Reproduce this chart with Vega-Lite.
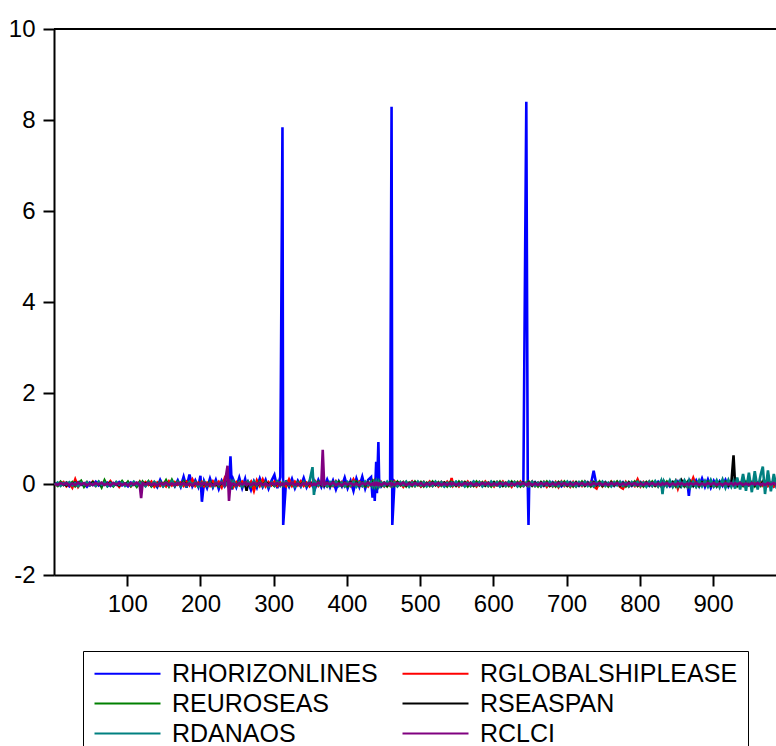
{"$schema":"https://vega.github.io/schema/vega-lite/v6.json","width":722,"height":546,"autosize":{"type":"none"},"padding":{"left":54,"top":29,"right":0,"bottom":171},"background":"white","config":{"view":{"stroke":null},"font":"Liberation Sans"},
"data":{"values":[
{"t":1,"h":0.02,"g":-0.03,"e":0.01,"s":0,"d":-0.02,"c":0.01},
{"t":5,"h":-0.03,"g":0.02,"e":-0.04,"s":0.02,"d":0.03,"c":-0.02},
{"t":9,"h":0.01,"g":-0.01,"e":0.05,"s":-0.02,"d":-0.04,"c":0.02},
{"t":13,"h":-0.02,"g":0.04,"e":-0.02,"s":0.01,"d":0.02,"c":-0.01},
{"t":17,"h":0.03,"g":-0.05,"e":0.03,"s":-0.03,"d":-0.01,"c":0.02},
{"t":21,"h":-0.05,"g":0.02,"e":-0.01,"s":0.02,"d":0.04,"c":-0.03},
{"t":25,"h":0.02,"g":-0.08,"e":0.04,"s":-0.01,"d":-0.03,"c":0.01},
{"t":29,"h":-0.01,"g":0.10,"e":-0.05,"s":0.03,"d":0.02,"c":-0.02},
{"t":33,"h":0.04,"g":-0.06,"e":0.02,"s":-0.02,"d":-0.05,"c":0.03},
{"t":37,"h":-0.02,"g":0.03,"e":0.07,"s":0.01,"d":0.03,"c":-0.01},
{"t":41,"h":0.01,"g":-0.02,"e":-0.06,"s":-0.02,"d":-0.02,"c":0.02},
{"t":45,"h":-0.06,"g":0.04,"e":0.03,"s":0.02,"d":0.04,"c":-0.03},
{"t":49,"h":0.03,"g":-0.03,"e":-0.02,"s":-0.01,"d":-0.03,"c":0.01},
{"t":53,"h":-0.02,"g":0.05,"e":0.04,"s":0.03,"d":0.01,"c":-0.02},
{"t":57,"h":0.05,"g":-0.04,"e":-0.03,"s":-0.02,"d":-0.04,"c":0.02},
{"t":61,"h":-0.03,"g":0.02,"e":0.05,"s":0.01,"d":0.05,"c":-0.01},
{"t":65,"h":0.02,"g":-0.05,"e":-0.07,"s":-0.03,"d":-0.02,"c":0.03},
{"t":69,"h":-0.01,"g":0.03,"e":0.08,"s":0.02,"d":0.03,"c":-0.02},
{"t":73,"h":0.03,"g":-0.02,"e":-0.04,"s":-0.01,"d":-0.05,"c":0.01},
{"t":77,"h":-0.04,"g":0.06,"e":0.02,"s":0.03,"d":0.02,"c":-0.03},
{"t":81,"h":0.02,"g":-0.03,"e":-0.05,"s":-0.02,"d":-0.03,"c":0.02},
{"t":85,"h":-0.02,"g":0.02,"e":0.04,"s":0.01,"d":0.04,"c":-0.01},
{"t":89,"h":0.04,"g":-0.06,"e":-0.02,"s":-0.03,"d":-0.02,"c":0.02},
{"t":93,"h":-0.03,"g":0.04,"e":0.06,"s":0.02,"d":0.03,"c":-0.02},
{"t":97,"h":0.01,"g":-0.02,"e":-0.03,"s":-0.01,"d":-0.04,"c":0.01},
{"t":101,"h":-0.05,"g":0.03,"e":0.05,"s":0.02,"d":0.02,"c":-0.03},
{"t":105,"h":0.03,"g":-0.05,"e":-0.04,"s":-0.02,"d":-0.03,"c":0.02},
{"t":109,"h":-0.02,"g":0.02,"e":0.03,"s":0.03,"d":0.05,"c":-0.01},
{"t":113,"h":0.02,"g":-0.04,"e":-0.06,"s":-0.01,"d":-0.02,"c":0.03},
{"t":117,"h":-0.04,"g":0.05,"e":0.04,"s":0.02,"d":0.03,"c":-0.02},
{"t":119,"h":0.01,"g":-0.02,"e":-0.02,"s":-0.01,"d":-0.03,"c":-0.31},
{"t":121,"h":0.03,"g":-0.03,"e":0.05,"s":-0.02,"d":0.02,"c":0.02},
{"t":125,"h":-0.02,"g":0.04,"e":-0.03,"s":0.01,"d":-0.05,"c":-0.01},
{"t":129,"h":0.04,"g":-0.02,"e":0.06,"s":0.02,"d":0.04,"c":0.02},
{"t":133,"h":-0.03,"g":0.05,"e":-0.05,"s":-0.03,"d":-0.03,"c":-0.02},
{"t":137,"h":0.02,"g":-0.06,"e":0.03,"s":0.02,"d":0.05,"c":0.01},
{"t":141,"h":-0.07,"g":0.03,"e":-0.04,"s":-0.01,"d":-0.02,"c":-0.03},
{"t":145,"h":0.09,"g":-0.04,"e":0.05,"s":0.03,"d":0.04,"c":0.02},
{"t":149,"h":-0.04,"g":0.02,"e":-0.03,"s":-0.02,"d":-0.05,"c":-0.01},
{"t":153,"h":0.05,"g":-0.05,"e":0.08,"s":0.01,"d":0.03,"c":0.03},
{"t":157,"h":-0.03,"g":0.06,"e":-0.05,"s":-0.03,"d":-0.04,"c":-0.02},
{"t":161,"h":0.06,"g":-0.03,"e":0.09,"s":0.02,"d":0.06,"c":0.01},
{"t":165,"h":-0.05,"g":0.04,"e":-0.04,"s":-0.02,"d":-0.03,"c":-0.02},
{"t":169,"h":0.08,"g":-0.02,"e":0.05,"s":0.03,"d":0.04,"c":0.02},
{"t":173,"h":-0.06,"g":0.03,"e":-0.03,"s":-0.02,"d":-0.05,"c":-0.01},
{"t":177,"h":0.16,"g":-0.04,"e":0.06,"s":0.03,"d":0.03,"c":0.02},
{"t":181,"h":-0.08,"g":0.05,"e":-0.04,"s":-0.01,"d":-0.04,"c":-0.02},
{"t":185,"h":0.21,"g":-0.03,"e":0.05,"s":0.02,"d":0.05,"c":0.01},
{"t":189,"h":-0.05,"g":0.10,"e":-0.03,"s":-0.03,"d":-0.02,"c":-0.03},
{"t":193,"h":0.08,"g":-0.04,"e":0.04,"s":0.02,"d":0.04,"c":0.02},
{"t":197,"h":-0.06,"g":0.03,"e":-0.05,"s":-0.02,"d":-0.05,"c":-0.01},
{"t":200,"h":0.18,"g":-0.02,"e":0.03,"s":0.01,"d":0.02,"c":0.02},
{"t":202,"h":-0.39,"g":0.04,"e":-0.02,"s":-0.03,"d":-0.03,"c":-0.02},
{"t":205,"h":0.06,"g":-0.05,"e":0.04,"s":0.02,"d":0.05,"c":0.03},
{"t":209,"h":-0.09,"g":0.03,"e":-0.03,"s":-0.04,"d":-0.04,"c":-0.02},
{"t":213,"h":0.12,"g":-0.04,"e":0.05,"s":0.03,"d":0.03,"c":0.01},
{"t":217,"h":-0.07,"g":0.06,"e":-0.04,"s":-0.02,"d":-0.06,"c":-0.03},
{"t":221,"h":0.09,"g":-0.03,"e":0.03,"s":0.01,"d":0.04,"c":0.02},
{"t":225,"h":-0.11,"g":0.05,"e":-0.05,"s":-0.03,"d":-0.03,"c":-0.01},
{"t":229,"h":0.07,"g":-0.07,"e":0.04,"s":0.02,"d":0.05,"c":0.03},
{"t":233,"h":-0.05,"g":0.12,"e":-0.03,"s":-0.01,"d":-0.04,"c":-0.02},
{"t":237,"h":0.06,"g":-0.03,"e":0.05,"s":0.03,"d":0.03,"c":0.40},
{"t":239,"h":-0.04,"g":0.04,"e":-0.04,"s":-0.02,"d":-0.04,"c":-0.37},
{"t":241,"h":0.61,"g":-0.05,"e":0.03,"s":0.02,"d":0.05,"c":0.02},
{"t":243,"h":-0.12,"g":0.03,"e":-0.05,"s":-0.03,"d":-0.03,"c":-0.02},
{"t":245,"h":0.09,"g":-0.06,"e":0.04,"s":0.01,"d":0.06,"c":0.01},
{"t":249,"h":-0.07,"g":0.04,"e":-0.03,"s":-0.02,"d":-0.05,"c":-0.03},
{"t":253,"h":0.14,"g":-0.03,"e":0.05,"s":0.03,"d":0.04,"c":0.02},
{"t":257,"h":-0.09,"g":0.05,"e":-0.04,"s":-0.04,"d":-0.06,"c":-0.01},
{"t":261,"h":0.11,"g":-0.04,"e":0.03,"s":0.02,"d":0.03,"c":0.03},
{"t":263,"h":-0.05,"g":0.02,"e":-0.02,"s":-0.15,"d":-0.02,"c":-0.02},
{"t":265,"h":0.04,"g":-0.03,"e":0.04,"s":0.03,"d":0.05,"c":0.01},
{"t":269,"h":-0.13,"g":0.05,"e":-0.05,"s":-0.02,"d":-0.04,"c":-0.02},
{"t":273,"h":0.06,"g":-0.15,"e":0.03,"s":0.02,"d":0.06,"c":0.02},
{"t":277,"h":-0.08,"g":0.08,"e":-0.04,"s":-0.03,"d":-0.03,"c":-0.01},
{"t":281,"h":0.12,"g":-0.04,"e":0.06,"s":0.02,"d":0.04,"c":0.03},
{"t":285,"h":-0.06,"g":0.10,"e":-0.03,"s":-0.02,"d":-0.05,"c":-0.02},
{"t":289,"h":0.09,"g":-0.05,"e":0.04,"s":0.03,"d":0.03,"c":0.01},
{"t":293,"h":-0.10,"g":0.04,"e":-0.05,"s":-0.01,"d":-0.06,"c":-0.03},
{"t":297,"h":0.07,"g":-0.03,"e":0.03,"s":0.02,"d":0.04,"c":0.02},
{"t":301,"h":0.20,"g":0.05,"e":-0.04,"s":-0.03,"d":-0.03,"c":-0.01},
{"t":305,"h":-0.09,"g":-0.04,"e":0.05,"s":0.02,"d":0.05,"c":0.02},
{"t":309,"h":0.15,"g":0.03,"e":-0.03,"s":-0.02,"d":-0.04,"c":-0.02},
{"t":312,"h":7.84,"g":-0.02,"e":0.02,"s":0.01,"d":0.03,"c":0.01},
{"t":313,"h":-0.90,"g":0.02,"e":-0.03,"s":-0.01,"d":-0.02,"c":-0.02},
{"t":317,"h":0.08,"g":-0.05,"e":0.04,"s":0.03,"d":0.05,"c":0.02},
{"t":321,"h":-0.06,"g":0.10,"e":-0.04,"s":-0.02,"d":-0.03,"c":-0.01},
{"t":325,"h":0.11,"g":-0.04,"e":0.03,"s":0.02,"d":0.04,"c":0.03},
{"t":329,"h":-0.09,"g":0.05,"e":-0.05,"s":-0.03,"d":-0.06,"c":-0.02},
{"t":333,"h":0.07,"g":-0.03,"e":0.04,"s":0.01,"d":0.03,"c":0.01},
{"t":337,"h":-0.05,"g":0.06,"e":-0.03,"s":-0.02,"d":-0.05,"c":-0.03},
{"t":341,"h":0.13,"g":-0.04,"e":0.05,"s":0.03,"d":0.04,"c":0.02},
{"t":345,"h":-0.07,"g":0.03,"e":-0.04,"s":-0.02,"d":-0.03,"c":-0.01},
{"t":349,"h":0.06,"g":-0.05,"e":0.03,"s":0.02,"d":0.06,"c":0.02},
{"t":353,"h":-0.04,"g":0.04,"e":-0.02,"s":-0.01,"d":0.37,"c":-0.02},
{"t":355,"h":0.05,"g":-0.03,"e":0.03,"s":0.02,"d":-0.24,"c":0.01},
{"t":357,"h":-0.08,"g":0.05,"e":-0.04,"s":-0.03,"d":0.04,"c":-0.02},
{"t":361,"h":0.09,"g":-0.04,"e":0.05,"s":0.02,"d":-0.03,"c":0.03},
{"t":365,"h":-0.06,"g":0.03,"e":-0.03,"s":-0.02,"d":0.05,"c":-0.01},
{"t":367,"h":0.04,"g":-0.02,"e":0.02,"s":0.01,"d":-0.02,"c":0.75},
{"t":369,"h":-0.05,"g":0.04,"e":-0.04,"s":-0.03,"d":0.03,"c":-0.02},
{"t":373,"h":0.10,"g":-0.05,"e":0.03,"s":0.02,"d":-0.05,"c":0.02},
{"t":377,"h":-0.07,"g":0.03,"e":-0.05,"s":-0.02,"d":0.04,"c":-0.01},
{"t":381,"h":0.08,"g":-0.04,"e":0.04,"s":0.03,"d":-0.03,"c":0.03},
{"t":385,"h":-0.12,"g":0.06,"e":-0.03,"s":-0.01,"d":0.05,"c":-0.02},
{"t":389,"h":0.06,"g":-0.03,"e":0.05,"s":0.02,"d":-0.04,"c":0.01},
{"t":393,"h":-0.05,"g":0.04,"e":-0.04,"s":-0.03,"d":0.03,"c":-0.03},
{"t":397,"h":0.14,"g":-0.05,"e":0.03,"s":0.02,"d":-0.05,"c":0.02},
{"t":401,"h":-0.09,"g":0.03,"e":-0.05,"s":-0.02,"d":0.04,"c":-0.01},
{"t":405,"h":0.07,"g":-0.04,"e":0.04,"s":0.03,"d":-0.03,"c":0.02},
{"t":409,"h":-0.15,"g":0.10,"e":-0.03,"s":-0.01,"d":0.05,"c":-0.02},
{"t":413,"h":0.12,"g":-0.03,"e":0.05,"s":0.02,"d":-0.06,"c":0.01},
{"t":417,"h":-0.06,"g":0.05,"e":-0.04,"s":-0.03,"d":0.03,"c":-0.03},
{"t":421,"h":0.16,"g":-0.04,"e":0.03,"s":0.02,"d":-0.04,"c":0.02},
{"t":425,"h":-0.10,"g":0.03,"e":-0.05,"s":-0.02,"d":0.05,"c":-0.01},
{"t":429,"h":0.09,"g":-0.05,"e":0.04,"s":0.03,"d":-0.03,"c":0.03},
{"t":433,"h":0.15,"g":0.04,"e":-0.03,"s":-0.01,"d":0.04,"c":-0.02},
{"t":435,"h":-0.30,"g":-0.03,"e":0.05,"s":0.02,"d":-0.05,"c":0.01},
{"t":437,"h":0.10,"g":0.05,"e":-0.04,"s":-0.03,"d":0.03,"c":-0.02},
{"t":438,"h":-0.37,"g":-0.02,"e":0.03,"s":0.02,"d":-0.04,"c":0.02},
{"t":440,"h":0.49,"g":0.03,"e":-0.05,"s":-0.02,"d":0.05,"c":-0.01},
{"t":441,"h":-0.20,"g":-0.04,"e":0.04,"s":0.03,"d":-0.03,"c":0.02},
{"t":443,"h":0.92,"g":0.02,"e":-0.03,"s":-0.01,"d":0.04,"c":-0.02},
{"t":444,"h":0.10,"g":-0.03,"e":0.05,"s":0.02,"d":-0.05,"c":0.01},
{"t":447,"h":-0.05,"g":0.04,"e":-0.04,"s":-0.02,"d":0.03,"c":-0.02},
{"t":451,"h":0.03,"g":-0.05,"e":0.03,"s":0.01,"d":-0.04,"c":0.02},
{"t":455,"h":-0.02,"g":0.03,"e":-0.05,"s":-0.03,"d":0.05,"c":-0.01},
{"t":459,"h":0.04,"g":-0.04,"e":0.04,"s":0.02,"d":-0.03,"c":0.02},
{"t":461,"h":8.29,"g":0.02,"e":-0.02,"s":-0.01,"d":0.02,"c":-0.02},
{"t":462,"h":-0.90,"g":-0.03,"e":0.03,"s":0.02,"d":-0.04,"c":0.01},
{"t":465,"h":0.05,"g":0.05,"e":-0.04,"s":-0.02,"d":0.03,"c":-0.02},
{"t":469,"h":-0.03,"g":-0.04,"e":0.05,"s":0.03,"d":-0.05,"c":0.02},
{"t":473,"h":0.02,"g":0.03,"e":-0.03,"s":-0.01,"d":0.04,"c":-0.01},
{"t":477,"h":-0.04,"g":-0.06,"e":0.04,"s":0.02,"d":-0.03,"c":0.03},
{"t":481,"h":0.03,"g":0.04,"e":-0.05,"s":-0.03,"d":0.05,"c":-0.02},
{"t":485,"h":-0.02,"g":-0.03,"e":0.03,"s":0.02,"d":-0.06,"c":0.01},
{"t":489,"h":0.05,"g":0.05,"e":-0.04,"s":-0.02,"d":0.03,"c":-0.02},
{"t":493,"h":-0.03,"g":-0.04,"e":0.05,"s":0.03,"d":-0.04,"c":0.02},
{"t":497,"h":0.02,"g":0.03,"e":-0.03,"s":-0.01,"d":0.05,"c":-0.01},
{"t":501,"h":-0.05,"g":-0.05,"e":0.04,"s":0.02,"d":-0.03,"c":0.02},
{"t":505,"h":0.03,"g":0.04,"e":-0.05,"s":-0.03,"d":0.04,"c":-0.03},
{"t":509,"h":-0.02,"g":-0.03,"e":0.03,"s":0.01,"d":-0.05,"c":0.01},
{"t":513,"h":0.04,"g":0.05,"e":-0.04,"s":-0.02,"d":0.03,"c":-0.02},
{"t":517,"h":-0.03,"g":-0.04,"e":0.05,"s":0.03,"d":-0.04,"c":0.02},
{"t":521,"h":0.02,"g":0.03,"e":-0.03,"s":-0.02,"d":0.05,"c":-0.01},
{"t":525,"h":-0.04,"g":-0.05,"e":0.04,"s":0.02,"d":-0.03,"c":0.02},
{"t":529,"h":0.03,"g":0.04,"e":-0.04,"s":-0.01,"d":0.04,"c":-0.02},
{"t":533,"h":-0.05,"g":-0.03,"e":0.03,"s":0.03,"d":-0.05,"c":0.01},
{"t":537,"h":0.02,"g":0.05,"e":-0.05,"s":-0.02,"d":0.03,"c":-0.02},
{"t":541,"h":-0.03,"g":-0.02,"e":0.04,"s":0.02,"d":-0.04,"c":0.02},
{"t":543,"h":0.02,"g":0.13,"e":-0.02,"s":-0.01,"d":0.02,"c":-0.01},
{"t":545,"h":-0.02,"g":-0.04,"e":0.03,"s":0.02,"d":-0.03,"c":0.02},
{"t":549,"h":0.04,"g":0.03,"e":-0.04,"s":-0.03,"d":0.05,"c":-0.02},
{"t":553,"h":-0.03,"g":-0.05,"e":0.05,"s":0.02,"d":-0.03,"c":0.01},
{"t":557,"h":0.02,"g":0.04,"e":-0.03,"s":-0.01,"d":0.04,"c":-0.02},
{"t":561,"h":-0.04,"g":-0.03,"e":0.04,"s":0.03,"d":-0.05,"c":0.02},
{"t":565,"h":0.03,"g":0.05,"e":-0.05,"s":-0.02,"d":0.03,"c":-0.01},
{"t":569,"h":-0.02,"g":-0.04,"e":0.03,"s":0.02,"d":-0.04,"c":0.02},
{"t":573,"h":0.05,"g":0.03,"e":-0.04,"s":-0.03,"d":0.05,"c":-0.02},
{"t":577,"h":-0.03,"g":-0.05,"e":0.05,"s":0.01,"d":-0.03,"c":0.01},
{"t":581,"h":0.02,"g":0.04,"e":-0.03,"s":-0.02,"d":0.04,"c":-0.02},
{"t":585,"h":-0.04,"g":-0.03,"e":0.04,"s":0.02,"d":-0.05,"c":0.02},
{"t":589,"h":0.03,"g":0.05,"e":-0.04,"s":-0.03,"d":0.03,"c":-0.01},
{"t":593,"h":-0.02,"g":-0.04,"e":0.03,"s":0.02,"d":-0.04,"c":0.02},
{"t":597,"h":0.04,"g":0.03,"e":-0.05,"s":-0.01,"d":0.05,"c":-0.02},
{"t":601,"h":-0.03,"g":-0.05,"e":0.04,"s":0.03,"d":-0.03,"c":0.01},
{"t":605,"h":0.02,"g":0.04,"e":-0.03,"s":-0.02,"d":0.04,"c":-0.02},
{"t":609,"h":-0.05,"g":-0.03,"e":0.05,"s":0.02,"d":-0.05,"c":0.02},
{"t":613,"h":0.03,"g":0.05,"e":-0.04,"s":-0.03,"d":0.03,"c":-0.01},
{"t":617,"h":-0.02,"g":-0.04,"e":0.03,"s":0.01,"d":-0.04,"c":0.02},
{"t":621,"h":0.04,"g":0.03,"e":-0.04,"s":-0.02,"d":0.05,"c":-0.02},
{"t":625,"h":-0.03,"g":-0.06,"e":0.05,"s":0.03,"d":-0.03,"c":0.01},
{"t":629,"h":0.02,"g":0.04,"e":-0.03,"s":-0.02,"d":0.04,"c":-0.02},
{"t":633,"h":-0.04,"g":-0.03,"e":0.04,"s":0.02,"d":-0.05,"c":0.02},
{"t":637,"h":0.03,"g":0.05,"e":-0.05,"s":-0.01,"d":0.03,"c":-0.01},
{"t":641,"h":-0.02,"g":-0.04,"e":0.03,"s":0.03,"d":-0.04,"c":0.02},
{"t":645,"h":8.40,"g":0.03,"e":-0.02,"s":-0.02,"d":0.03,"c":-0.02},
{"t":647,"h":0,"g":-0.02,"e":0.03,"s":0.01,"d":-0.02,"c":0.01},
{"t":648,"h":-0.90,"g":0.04,"e":-0.03,"s":-0.02,"d":0.04,"c":-0.01},
{"t":649,"h":0.02,"g":-0.03,"e":0.04,"s":0.02,"d":-0.03,"c":0.02},
{"t":653,"h":-0.03,"g":0.05,"e":-0.04,"s":-0.03,"d":0.05,"c":-0.02},
{"t":657,"h":0.04,"g":-0.04,"e":0.03,"s":0.02,"d":-0.04,"c":0.01},
{"t":661,"h":-0.02,"g":0.03,"e":-0.05,"s":-0.01,"d":0.03,"c":-0.02},
{"t":665,"h":0.03,"g":-0.05,"e":0.04,"s":0.03,"d":-0.05,"c":0.02},
{"t":669,"h":-0.04,"g":0.04,"e":-0.03,"s":-0.02,"d":0.04,"c":-0.01},
{"t":673,"h":0.02,"g":-0.06,"e":0.05,"s":0.02,"d":-0.03,"c":0.02},
{"t":677,"h":-0.03,"g":0.03,"e":-0.04,"s":-0.03,"d":0.05,"c":-0.02},
{"t":681,"h":0.04,"g":-0.05,"e":0.03,"s":0.01,"d":-0.04,"c":0.01},
{"t":685,"h":-0.02,"g":0.04,"e":-0.05,"s":-0.02,"d":0.03,"c":-0.02},
{"t":689,"h":0.03,"g":-0.07,"e":0.04,"s":0.03,"d":-0.05,"c":0.02},
{"t":693,"h":-0.05,"g":0.05,"e":-0.03,"s":-0.02,"d":0.04,"c":-0.01},
{"t":697,"h":0.02,"g":-0.04,"e":0.05,"s":0.02,"d":-0.03,"c":0.02},
{"t":701,"h":-0.03,"g":0.03,"e":-0.04,"s":-0.03,"d":0.05,"c":-0.02},
{"t":705,"h":0.04,"g":-0.06,"e":0.03,"s":0.01,"d":-0.04,"c":0.01},
{"t":709,"h":-0.02,"g":0.04,"e":-0.05,"s":-0.02,"d":0.03,"c":-0.02},
{"t":713,"h":0.03,"g":-0.05,"e":0.04,"s":0.03,"d":-0.05,"c":0.02},
{"t":717,"h":-0.04,"g":0.03,"e":-0.03,"s":-0.02,"d":0.04,"c":-0.01},
{"t":721,"h":0.02,"g":-0.04,"e":0.05,"s":0.02,"d":-0.03,"c":0.02},
{"t":725,"h":-0.03,"g":0.05,"e":-0.04,"s":-0.03,"d":0.05,"c":-0.02},
{"t":729,"h":0.04,"g":-0.03,"e":0.03,"s":0.01,"d":-0.04,"c":0.01},
{"t":733,"h":-0.02,"g":0.04,"e":-0.05,"s":-0.02,"d":0.03,"c":-0.02},
{"t":737,"h":0.29,"g":-0.05,"e":0.04,"s":0.03,"d":-0.05,"c":0.02},
{"t":741,"h":-0.04,"g":-0.10,"e":-0.03,"s":-0.02,"d":0.04,"c":-0.01},
{"t":745,"h":0.03,"g":0.04,"e":0.05,"s":0.02,"d":-0.03,"c":0.02},
{"t":749,"h":-0.02,"g":-0.05,"e":-0.04,"s":-0.03,"d":0.05,"c":-0.02},
{"t":753,"h":0.04,"g":0.03,"e":0.03,"s":0.01,"d":-0.04,"c":0.01},
{"t":757,"h":-0.03,"g":-0.04,"e":-0.05,"s":-0.02,"d":0.03,"c":-0.02},
{"t":761,"h":0.02,"g":0.05,"e":0.04,"s":0.03,"d":-0.05,"c":0.02},
{"t":765,"h":-0.04,"g":-0.03,"e":-0.03,"s":-0.02,"d":0.04,"c":-0.01},
{"t":769,"h":0.03,"g":0.04,"e":0.05,"s":0.02,"d":-0.03,"c":0.02},
{"t":773,"h":-0.02,"g":-0.06,"e":-0.04,"s":-0.03,"d":0.05,"c":-0.02},
{"t":777,"h":0.04,"g":-0.10,"e":0.03,"s":0.01,"d":-0.04,"c":0.01},
{"t":781,"h":-0.03,"g":0.04,"e":-0.05,"s":-0.02,"d":0.03,"c":-0.02},
{"t":785,"h":0.02,"g":-0.05,"e":0.04,"s":0.03,"d":-0.05,"c":0.02},
{"t":789,"h":-0.04,"g":0.03,"e":-0.03,"s":-0.02,"d":0.04,"c":-0.01},
{"t":793,"h":0.03,"g":-0.04,"e":0.05,"s":0.02,"d":-0.03,"c":0.02},
{"t":797,"h":-0.02,"g":0.10,"e":-0.04,"s":-0.03,"d":0.05,"c":-0.02},
{"t":801,"h":0.04,"g":-0.05,"e":0.03,"s":0.01,"d":-0.04,"c":0.01},
{"t":805,"h":-0.03,"g":0.04,"e":-0.05,"s":-0.02,"d":0.03,"c":-0.02},
{"t":809,"h":0.02,"g":-0.03,"e":0.04,"s":0.03,"d":-0.06,"c":0.02},
{"t":813,"h":-0.04,"g":0.05,"e":-0.03,"s":-0.02,"d":0.05,"c":-0.01},
{"t":817,"h":0.03,"g":-0.04,"e":0.05,"s":0.02,"d":-0.04,"c":0.02},
{"t":821,"h":-0.02,"g":0.03,"e":-0.04,"s":-0.03,"d":0.06,"c":-0.02},
{"t":825,"h":0.05,"g":-0.05,"e":0.03,"s":0.01,"d":-0.05,"c":0.01},
{"t":829,"h":-0.03,"g":0.04,"e":-0.05,"s":-0.02,"d":0.07,"c":-0.02},
{"t":831,"h":0.02,"g":-0.03,"e":0.03,"s":0.02,"d":-0.22,"c":0.02},
{"t":833,"h":-0.04,"g":0.05,"e":-0.04,"s":-0.03,"d":0.06,"c":-0.01},
{"t":837,"h":0.03,"g":-0.04,"e":0.05,"s":0.02,"d":-0.05,"c":0.02},
{"t":841,"h":-0.05,"g":0.03,"e":-0.03,"s":-0.02,"d":0.08,"c":-0.02},
{"t":845,"h":0.04,"g":-0.05,"e":0.04,"s":0.03,"d":-0.06,"c":0.01},
{"t":849,"h":-0.03,"g":0.06,"e":-0.05,"s":-0.02,"d":0.07,"c":-0.02},
{"t":852,"h":0.05,"g":-0.10,"e":0.03,"s":0.02,"d":-0.05,"c":0.02},
{"t":855,"h":-0.04,"g":0.04,"e":-0.04,"s":-0.03,"d":0.06,"c":-0.01},
{"t":857,"h":0.03,"g":-0.03,"e":0.03,"s":0.08,"d":-0.04,"c":0.02},
{"t":861,"h":-0.05,"g":0.05,"e":-0.05,"s":-0.02,"d":0.08,"c":-0.02},
{"t":865,"h":0.04,"g":-0.06,"e":0.04,"s":0.03,"d":-0.05,"c":0.01},
{"t":867,"h":-0.26,"g":0.03,"e":-0.03,"s":-0.02,"d":0.06,"c":-0.02},
{"t":869,"h":0.06,"g":-0.04,"e":0.05,"s":0.02,"d":-0.07,"c":0.02},
{"t":873,"h":-0.04,"g":0.13,"e":-0.04,"s":-0.03,"d":0.05,"c":-0.01},
{"t":877,"h":0.08,"g":-0.05,"e":0.03,"s":0.01,"d":-0.06,"c":0.02},
{"t":881,"h":-0.05,"g":0.04,"e":-0.05,"s":-0.02,"d":0.08,"c":-0.02},
{"t":885,"h":0.12,"g":-0.03,"e":0.04,"s":0.03,"d":-0.05,"c":0.01},
{"t":889,"h":-0.06,"g":0.05,"e":-0.03,"s":-0.02,"d":0.07,"c":-0.02},
{"t":893,"h":0.10,"g":-0.04,"e":0.05,"s":0.02,"d":-0.06,"c":0.02},
{"t":897,"h":-0.08,"g":0.03,"e":-0.04,"s":-0.03,"d":0.09,"c":-0.01},
{"t":901,"h":0.07,"g":-0.05,"e":0.03,"s":0.02,"d":-0.05,"c":0.02},
{"t":905,"h":-0.05,"g":0.04,"e":-0.05,"s":-0.02,"d":0.08,"c":-0.02},
{"t":909,"h":0.06,"g":-0.03,"e":0.04,"s":0.03,"d":-0.07,"c":0.01},
{"t":913,"h":-0.04,"g":0.05,"e":-0.03,"s":-0.02,"d":0.10,"c":-0.02},
{"t":917,"h":0.09,"g":-0.04,"e":0.05,"s":0.02,"d":-0.08,"c":0.02},
{"t":921,"h":-0.06,"g":0.06,"e":-0.04,"s":-0.03,"d":0.09,"c":-0.01},
{"t":925,"h":0.05,"g":-0.03,"e":0.03,"s":0.02,"d":-0.06,"c":0.02},
{"t":928,"h":0.02,"g":0.04,"e":-0.02,"s":0.63,"d":0.05,"c":-0.02},
{"t":930,"h":-0.05,"g":-0.04,"e":0.04,"s":0.02,"d":-0.10,"c":0.02},
{"t":933,"h":0.04,"g":0.03,"e":-0.05,"s":-0.03,"d":0.14,"c":-0.01},
{"t":937,"h":-0.03,"g":-0.05,"e":0.03,"s":0.02,"d":-0.12,"c":0.02},
{"t":941,"h":0.05,"g":0.04,"e":-0.04,"s":-0.02,"d":0.22,"c":-0.02},
{"t":945,"h":-0.04,"g":-0.03,"e":0.05,"s":0.03,"d":-0.15,"c":0.01},
{"t":949,"h":0.03,"g":0.05,"e":-0.03,"s":-0.02,"d":0.25,"c":-0.02},
{"t":953,"h":-0.05,"g":-0.04,"e":0.04,"s":0.02,"d":-0.18,"c":0.02},
{"t":957,"h":0.04,"g":0.03,"e":-0.05,"s":-0.03,"d":0.28,"c":-0.01},
{"t":961,"h":-0.03,"g":-0.05,"e":0.03,"s":0.02,"d":-0.12,"c":0.02},
{"t":965,"h":0.05,"g":0.04,"e":-0.04,"s":-0.02,"d":0.20,"c":-0.02},
{"t":968,"h":-0.02,"g":-0.03,"e":0.05,"s":0.03,"d":0.38,"c":0.01},
{"t":971,"h":0.04,"g":0.05,"e":-0.03,"s":-0.02,"d":-0.22,"c":-0.02},
{"t":975,"h":-0.04,"g":-0.04,"e":0.04,"s":0.02,"d":0.30,"c":0.02},
{"t":979,"h":0.03,"g":0.03,"e":-0.05,"s":-0.03,"d":-0.16,"c":-0.01},
{"t":983,"h":-0.05,"g":-0.05,"e":0.03,"s":0.02,"d":0.22,"c":0.02},
{"t":987,"h":0.04,"g":0.04,"e":-0.04,"s":-0.02,"d":-0.10,"c":-0.02},
{"t":990,"h":-0.02,"g":-0.03,"e":0.03,"s":0.03,"d":0.08,"c":0.01}
]},
"layer":[
{"transform":[{"fold":["h","g","e","s","d","c"],"as":["k","v"]}],
"mark":{"type":"line","strokeWidth":2.6,"clip":true},
"encoding":{
"x":{"field":"t","type":"quantitative","scale":{"domain":[0,986],"nice":false,"zero":false},"axis":{"values":[100,200,300,400,500,600,700,800,900],"title":null,"grid":false,"tickSize":11,"tickWidth":2,"tickColor":"black","domainColor":"black","domainWidth":2,"labelFontSize":24,"labelFont":"Liberation Sans","labelColor":"black","labelPadding":6,"labelFlush":false,"labelOverlap":false}},
"y":{"field":"v","type":"quantitative","scale":{"domain":[-2,10],"nice":false,"zero":false},"axis":{"values":[-2,0,2,4,6,8,10],"labelExpr":"datum.value + ''","title":null,"grid":false,"tickSize":11,"tickWidth":2,"tickColor":"black","domainColor":"black","domainWidth":2,"labelFontSize":24,"labelFont":"Liberation Sans","labelColor":"black","labelPadding":8,"labelOverlap":false}},
"color":{"field":"k","type":"nominal","sort":["h","g","e","s","d","c"],"scale":{"domain":["h","g","e","s","d","c"],"range":["#0000ff","#ff0000","#008000","#000000","#008080","#800080"]},
"legend":{"orient":"none","legendX":29,"legendY":622,"title":null,"columns":2,"direction":"horizontal","symbolType":"M-1,0H5","symbolSize":484,"symbolStrokeWidth":2,"labelFontSize":25,"labelFont":"Liberation Sans","labelColor":"black","labelOffset":54,"labelLimit":500,"columnPadding":20,"rowPadding":4,"strokeColor":"black","fillColor":"white","padding":10,
"labelExpr":"datum.label=='h'?'RHORIZONLINES':datum.label=='g'?'RGLOBALSHIPLEASE':datum.label=='e'?'REUROSEAS':datum.label=='s'?'RSEASPAN':datum.label=='d'?'RDANAOS':'RCLCI'"}}
}},
{"data":{"values":[{}]},"mark":{"type":"rule","color":"black","strokeWidth":2},"encoding":{"y":{"datum":10}}}
]}
